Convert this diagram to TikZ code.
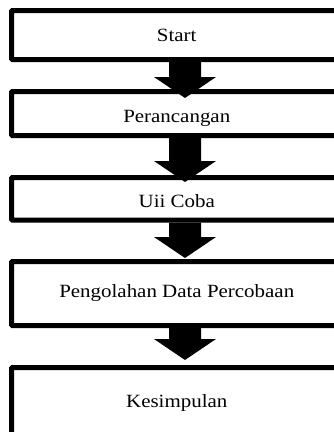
\documentclass[tikz,border=0pt]{standalone}
\usepackage{fontspec}
\setmainfont{Liberation Serif}[FakeStretch=1.12]
\tikzset{flowbox/.style={draw, line width=5pt, rounded corners=1pt, minimum width=330.5pt,
    inner sep=0pt, text height=12.4pt, text depth=0pt}}
% block arrow from box #1 to box #2, tip moved by #3
\newcommand{\blockarr}[3]{%
    \coordinate (tail) at ([xshift=8.25pt]#1.south);
    \coordinate (tip) at ([xshift=8.25pt,yshift=#3]#2.north);
    \fill ([xshift=-16pt]tail) -- ([xshift=-16pt,yshift=21pt]tip) -- ([xshift=-31pt,yshift=21pt]tip)
        -- (tip) -- ([xshift=31pt,yshift=21pt]tip) -- ([xshift=16pt,yshift=21pt]tip)
        -- ([xshift=16pt]tail) -- cycle;
}

\begin{document}
\begin{tikzpicture}[x=1pt, y=-1pt, font=\fontsize{18.7}{22}\selectfont]
        \useasboundingbox (0,0) rectangle (334,432);
        \clip (0,0) rectangle (334,432);
        \node[flowbox, minimum height=49pt] (start) at (176.75,35) {Start};
        \node[flowbox, minimum height=44pt, text height=18.8pt] (rancang) at (176.75,113.5) {Perancangan};
        \node[flowbox, minimum height=42.5pt, text height=17pt] (ujicoba) at (176.75,198.75) {Uii Coba};
        \node[flowbox, minimum height=64pt, text height=7pt] (olahdata) at (176.75,293.5) {Pengolahan Data Percobaan};
        \node[flowbox, minimum height=68.5pt] (simpulan) at (176.75,401.75) {Kesimpulan};
        \blockarr{start}{rancang}{-9pt}
        \blockarr{rancang}{ujicoba}{-7pt}
        \blockarr{ujicoba}{olahdata}{1pt}
        \blockarr{olahdata}{simpulan}{5pt}
    \end{tikzpicture}
\end{document}
